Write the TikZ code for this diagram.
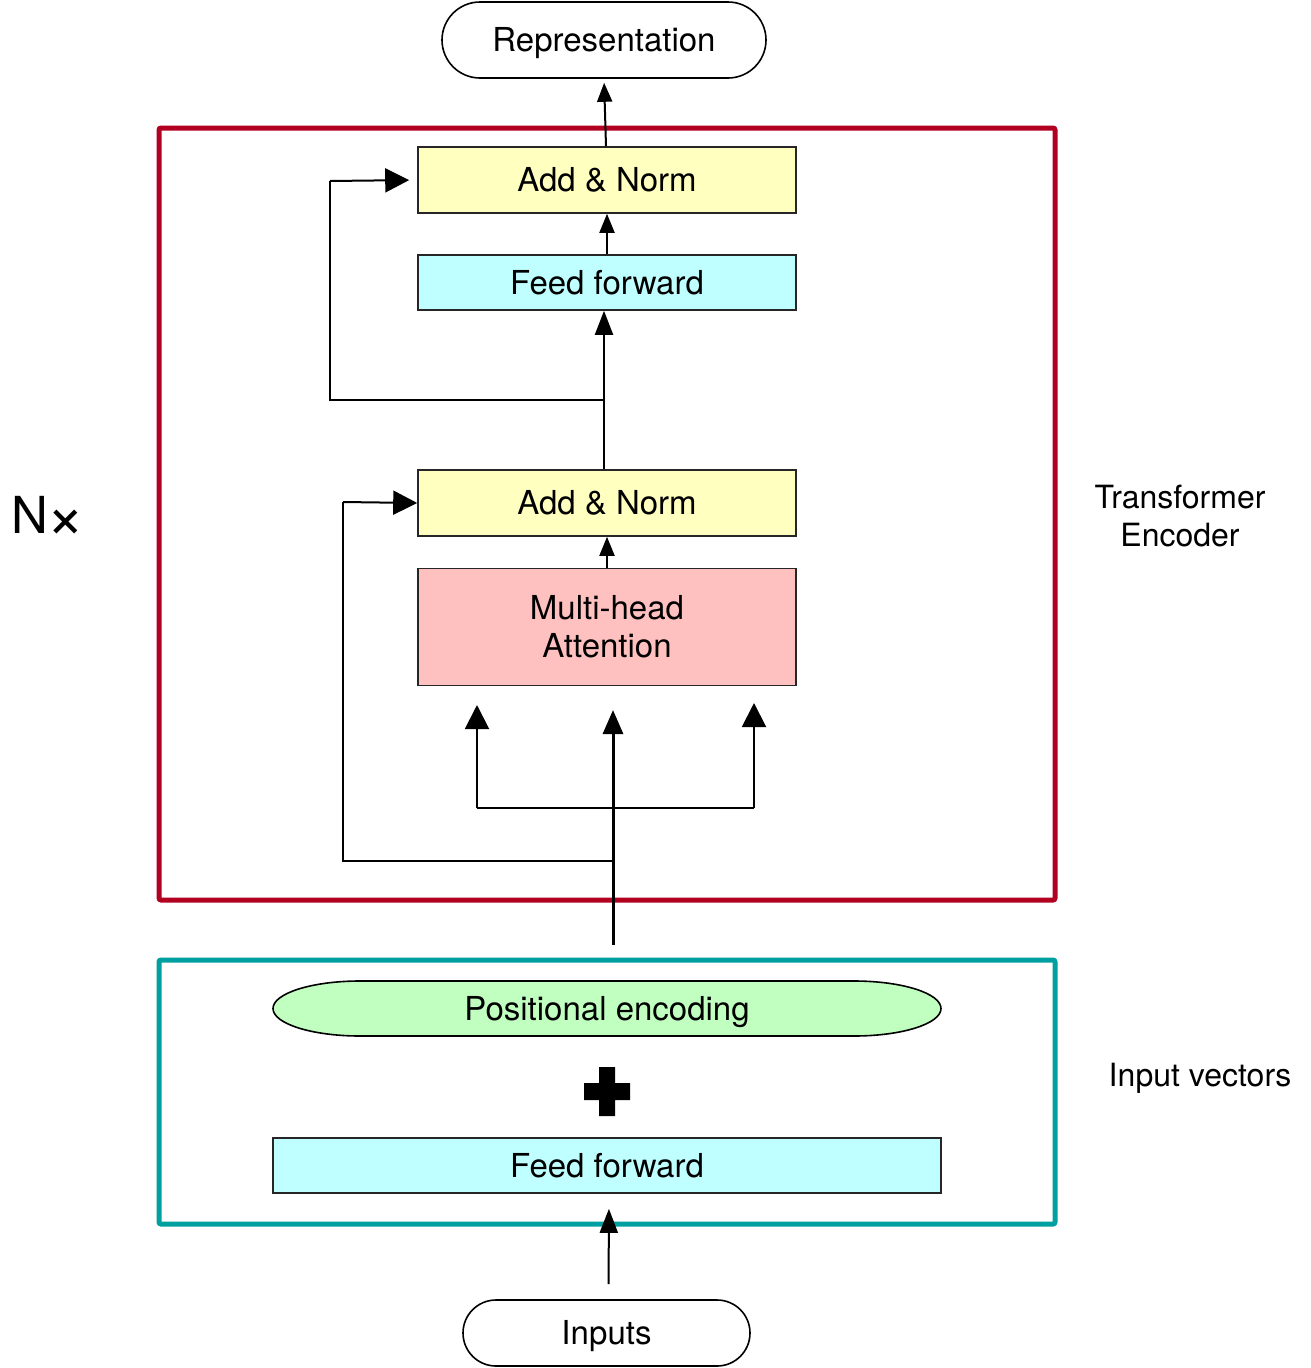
\documentclass[tikz,border=0pt]{standalone}
\usepackage{fontspec}
\setmainfont{TeX Gyre Heros}
\usetikzlibrary{arrows.meta,shapes.misc,shapes.geometric}
\definecolor{encred}{RGB}{178,0,32}
\definecolor{inteal}{RGB}{0,160,160}
\definecolor{yel}{RGB}{255,255,192}
\definecolor{cya}{RGB}{192,255,255}
\definecolor{pnk}{RGB}{255,192,192}
\definecolor{grn}{RGB}{192,255,192}
\tikzset{
  txt/.style={font=\fontsize{33}{39}\selectfont, inner sep=0pt},
  oneline/.style={text height=23.8pt, text depth=0pt},
  blockbox/.style={txt, draw=black!85, line width=1.6pt, rectangle, minimum width=378pt, align=center},
  pill/.style={txt, oneline, draw=black, line width=1.6pt, rounded rectangle},
  conn/.style={draw=black, line width=2pt},
  bigarr/.style={conn, -{Triangle[length=24pt,width=24pt]}},
  midarr/.style={conn, -{Triangle[length=24pt,width=18pt]}},
  smallarr/.style={conn, -{Triangle[length=19pt,width=15pt]}},
  frame/.style={line width=5pt, rounded corners=2pt},
}
\begin{document}
\begin{tikzpicture}[x=1pt,y=-1pt]
\useasboundingbox (0,0) rectangle (1310,1368);
% frames
\draw[frame, encred] (159,128) rectangle (1055,900);
\draw[frame, inteal] (159,960) rectangle (1055,1224);
% nodes
\node[pill, minimum width=324pt, minimum height=76pt] (rep) at (604,40) {Representation};
\node[blockbox, oneline, fill=yel, minimum height=66pt] (an2) at (607,180) {Add \& Norm};
\node[blockbox, oneline, fill=cya, minimum height=55pt] (ff2) at (607,282.5) {Feed forward};
\node[blockbox, oneline, fill=yel, minimum height=66pt] (an1) at (607,503) {Add \& Norm};
\node[blockbox, fill=pnk, minimum height=117pt, font=\fontsize{33}{38}\selectfont] (mha) at (607,627) {Multi-head\\Attention};
% positional encoding shape
\draw[line width=1.6pt, fill=grn] (360,981) -- (854,981) arc[start angle=90, end angle=-90, x radius=87pt, y radius=27.5pt] -- (360,1036) arc[start angle=270, end angle=90, x radius=87pt, y radius=27.5pt] -- cycle;
\node[txt, oneline] (pe) at (607,1009) {Positional encoding};
% plus sign
\fill[black] (599,1067) -- (615,1067) -- (615,1083) -- (630,1083) -- (630,1100) -- (615,1100) -- (615,1116) -- (599,1116) -- (599,1100) -- (584,1100) -- (584,1083) -- (599,1083) -- cycle;
\node[blockbox, oneline, fill=cya, minimum width=668pt, minimum height=55pt] (ffin) at (607,1165.5) {Feed forward};
\node[pill, minimum width=287pt, minimum height=66pt] (inp) at (606.5,1333) {Inputs};
% labels
\node[txt, font=\fontsize{51}{60}\selectfont, anchor=base west] (nx) at (11,533) {N\kern-2pt\raisebox{-5pt}{\fontsize{66}{66}\selectfont ×}};
\node[txt, align=center, font=\fontsize{32}{38}\selectfont] (te) at (1180,516) {Transformer\\Encoder};
\node[txt, text height=23pt, text depth=0pt, font=\fontsize{32}{38}\selectfont] (iv) at (1200,1075) {Input vectors};
% coordinates
\coordinate (src) at (613,945);
\coordinate (mtip) at (613,710);
\coordinate (ltip) at (477,705);
\coordinate (rtip) at (754,703);
\coordinate (lb) at (477,808);
\coordinate (rb) at (754,808);
\coordinate (r1a) at (613,861);
\coordinate (r1b) at (343,861);
\coordinate (r1c) at (343,502);
\coordinate (r2a) at (604,400);
\coordinate (r2b) at (330,400);
\coordinate (r2c) at (330,181);
% connectors
\draw[smallarr, shorten >=4pt] ([xshift=-1pt]an2.north) -- (rep.south);
\draw[smallarr] (ff2.north) -- (an2.south);
\draw[midarr] ([xshift=-3pt]an1.north) -- ([xshift=-3pt]ff2.south);
\draw[smallarr] (mha.north) -- (an1.south);
\draw[conn] (r2a) -- (r2b) -- (r2c);
\draw[bigarr, shorten >=8pt] (r2c) -- (an2.west);
\draw[conn, line width=3pt, -{Triangle[length=24pt,width=20pt]}] (src) -- (mtip);
\draw[conn] (lb) -- (rb);
\draw[bigarr] (lb) -- (ltip);
\draw[bigarr] (rb) -- (rtip);
\draw[conn] (r1a) -- (r1b) -- (r1c);
\draw[bigarr] (r1c) -- (an1.west);
\draw[midarr, shorten <=15pt, shorten >=15pt] ([xshift=2pt]inp.north) -- ([xshift=2pt]ffin.south);
\end{tikzpicture}
\end{document}
